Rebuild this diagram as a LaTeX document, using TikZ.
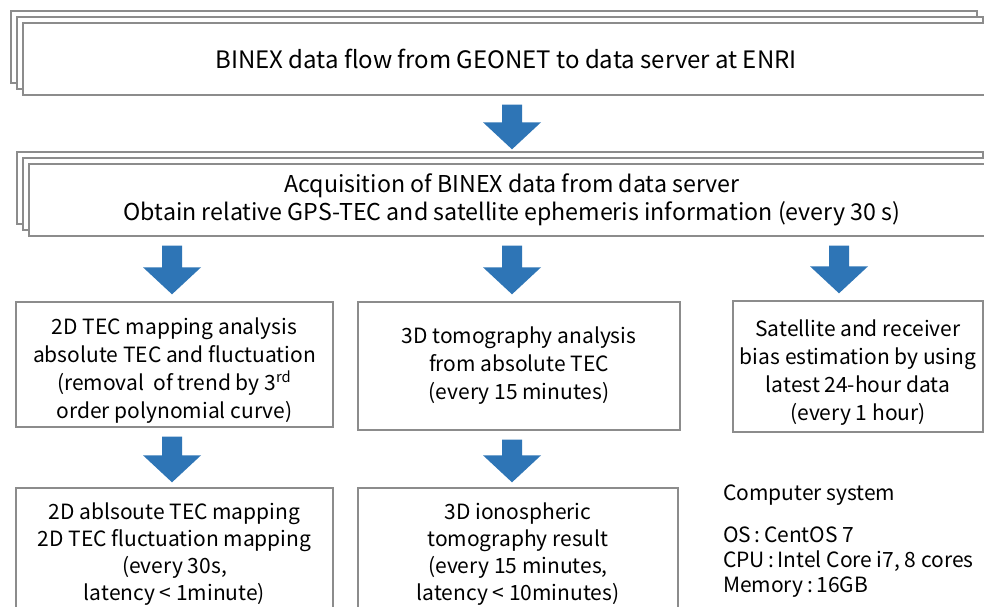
\documentclass[tikz,border=0pt]{standalone}
\usepackage{fontspec}
\setmainfont{Noto Sans CJK JP}
\usepackage{tikz}
\usetikzlibrary{calc, shadows}
\usepackage{xcolor}

\definecolor{flowblue}{RGB}{46,117,182}
\definecolor{boxgray}{RGB}{140,140,140}

% block arrow: x position, upper node, lower node, gap above the tip
\newcommand{\flowarrow}[4]{%
  \fill[flowblue] ($(#1,0 |- #2.south)+(-10,9)$) -- ($(#1,0 |- #2.south)+(10,9)$)
    -- ($(#1,0 |- #3.north)+(10,-#4-27)$) -- ($(#1,0 |- #3.north)+(29,-#4-27)$)
    -- ($(#1,0 |- #3.north)+(0,-#4)$) -- ($(#1,0 |- #3.north)+(-29,-#4-27)$)
    -- ($(#1,0 |- #3.north)+(-10,-#4-27)$) -- cycle;}

\begin{document}
\begin{tikzpicture}[x=0.5pt, y=-0.5pt, font=\fontsize{10.5}{14}\selectfont,
  box/.style={draw=boxgray, line width=0.7pt, fill=white, inner sep=0pt, align=center},
  stack/.style={box,
    copy shadow={shadow xshift=-6pt, shadow yshift=6pt, draw=boxgray, line width=0.7pt},
    copy shadow={shadow xshift=-3pt, shadow yshift=3pt, draw=boxgray, line width=0.7pt}}]
\useasboundingbox[fill=white] (0,0) rectangle (984,606);

\node[stack, minimum width=483pt, minimum height=36pt, font=\fontsize{12}{14}\selectfont] (flow) at (506,59)
  {\raisebox{-1.5pt}{BINEX data flow from GEONET to data server at ENRI}};
\node[stack, minimum width=483pt, minimum height=36pt, font=\fontsize{11.6}{14}\selectfont] (acq) at (512,200)
  {Acquisition of BINEX data from data server\\
   Obtain relative GPS-TEC and satellite ephemeris information (every 30 s)};

\node[box, minimum width=158.5pt, minimum height=62.5pt] (map) at (174.5,364.5)
  {\rule{0pt}{14pt}2D TEC mapping analysis\\absolute TEC and fluctuation\\
   (removal \ of trend by 3\textsuperscript{rd}\\order polynomial curve)};
\node[box, minimum width=161pt, minimum height=64pt] (tomo) at (519,366)
  {3D tomography analysis\\from absolute TEC\\(every 15 minutes)};
\node[box, minimum width=125pt, minimum height=65.5pt] (bias) at (858,366.5)
  {\rule{0pt}{14pt}Satellite and receiver\\bias estimation by using\\latest 24-hour data\\(every 1 hour)};

\node[box, minimum width=158.5pt, minimum height=66pt, font=\fontsize{10.5}{13.4}\selectfont] (mapres) at (174.5,554)
  {2D ablsoute TEC mapping\\2D TEC fluctuation mapping\\(every 30s,\\latency < 1minute)};
\node[box, minimum width=160pt, minimum height=66pt, font=\fontsize{10.5}{13.4}\selectfont] (tomores) at (518,554)
  {3D ionospheric\\tomography result\\(every 15 minutes,\\latency < 10minutes)};

\node[anchor=north west, align=left, font=\fontsize{10.5}{12.5}\selectfont] (comp) at (716,478)
  {Computer system\\[8.5pt]OS\,:\,CentOS 7\\CPU\,:\,Intel Core i7, 8 cores\\Memory\,:\,16GB};

\flowarrow{512}{flow}{acq}{14}
\flowarrow{172}{acq}{map}{7}
\flowarrow{512}{acq}{tomo}{7}
\flowarrow{839}{acq}{bias}{7}
\flowarrow{172}{map}{mapres}{5}
\flowarrow{512}{tomo}{tomores}{5}
\end{tikzpicture}
\end{document}
